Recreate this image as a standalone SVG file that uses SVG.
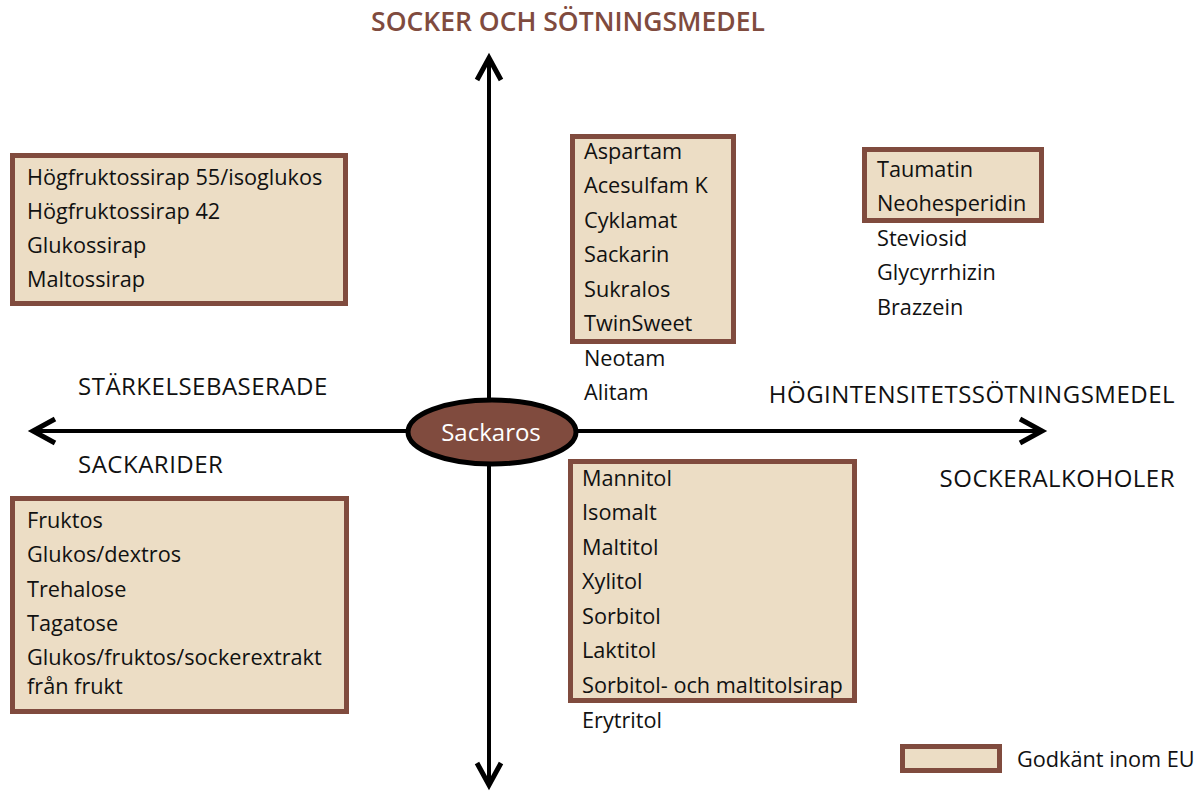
<svg xmlns="http://www.w3.org/2000/svg" width="1203" height="795" viewBox="0 0 1203 795">
<style>
.box{fill:#ecddc5;stroke:#804b3e;stroke-width:5}
.t{font-family:"Open Sans","Liberation Sans",sans-serif;font-size:21.7px;fill:#111}
.ax{font-family:"Open Sans","Liberation Sans",sans-serif;font-size:24px;letter-spacing:0.5px;fill:#111}
.title{font-family:"Open Sans","Liberation Sans",sans-serif;font-size:26.5px;font-weight:600;fill:#804b3e}
.axis{stroke:#000;stroke-width:4;fill:none}
</style>
<defs>
<marker id="chev" viewBox="-30 -16 36 32" refX="0" refY="0" markerWidth="36" markerHeight="32" markerUnits="userSpaceOnUse" orient="auto">
<path d="M-22,-12 L0,0 L-22,12" fill="none" stroke="#000" stroke-width="5" stroke-linejoin="miter" stroke-miterlimit="10"/>
</marker>
</defs>
<rect width="1203" height="795" fill="#fff"/>
<text class="title" x="568" y="31" text-anchor="middle">SOCKER OCH SÖTNINGSMEDEL</text>
<g id="connectors">
<line class="axis" x1="489" y1="432" x2="489" y2="58" marker-end="url(#chev)"/>
<line class="axis" x1="489" y1="432" x2="489" y2="785" marker-end="url(#chev)"/>
<line class="axis" x1="489" y1="431" x2="33" y2="431" marker-end="url(#chev)"/>
<line class="axis" x1="489" y1="431" x2="1042" y2="431" marker-end="url(#chev)"/>
</g>
<g id="axis-labels">
<text class="ax" x="78" y="395">STÄRKELSEBASERADE</text>
<text class="ax" x="78" y="473">SACKARIDER</text>
<text class="ax" x="1175" y="403" text-anchor="end">HÖGINTENSITETSSÖTNINGSMEDEL</text>
<text class="ax" x="1175" y="487" text-anchor="end">SOCKERALKOHOLER</text>
</g>
<g id="sackaros">
<ellipse cx="492" cy="432" rx="84" ry="32" fill="#804b3e" stroke="#000" stroke-width="5"/>
<text x="491" y="441" text-anchor="middle" style="font-family:'Open Sans','Liberation Sans',sans-serif;font-size:24px;fill:#fff">Sackaros</text>
</g>
<g id="starch">
<rect class="box" x="12.5" y="155.5" width="333" height="148"/>
<text class="t" x="27" y="185">Högfruktossirap 55/isoglukos</text>
<text class="t" x="27" y="219">Högfruktossirap 42</text>
<text class="t" x="27" y="253">Glukossirap</text>
<text class="t" x="27" y="287">Maltossirap</text>
</g>
<g id="intense1">
<rect class="box" x="572.5" y="136.5" width="161" height="205"/>
<text class="t" x="584" y="159">Aspartam</text>
<text class="t" x="584" y="193">Acesulfam K</text>
<text class="t" x="584" y="228">Cyklamat</text>
<text class="t" x="584" y="262">Sackarin</text>
<text class="t" x="584" y="297">Sukralos</text>
<text class="t" x="584" y="331">TwinSweet</text>
<text class="t" x="584" y="366">Neotam</text>
<text class="t" x="584" y="400">Alitam</text>
</g>
<g id="intense2">
<rect class="box" x="864.5" y="149.5" width="177" height="71"/>
<text class="t" x="877" y="177">Taumatin</text>
<text class="t" x="877" y="211">Neohesperidin</text>
<text class="t" x="877" y="246">Steviosid</text>
<text class="t" x="877" y="280">Glycyrrhizin</text>
<text class="t" x="877" y="315">Brazzein</text>
</g>
<g id="polyols">
<rect class="box" x="570.5" y="461.5" width="284" height="239"/>
<text class="t" x="582" y="486">Mannitol</text>
<text class="t" x="582" y="520">Isomalt</text>
<text class="t" x="582" y="555">Maltitol</text>
<text class="t" x="582" y="589">Xylitol</text>
<text class="t" x="582" y="624">Sorbitol</text>
<text class="t" x="582" y="658">Laktitol</text>
<text class="t" x="582" y="693">Sorbitol- och maltitolsirap</text>
<text class="t" x="582" y="728">Erytritol</text>
</g>
<g id="saccharides">
<rect class="box" x="12.5" y="498.5" width="334" height="213"/>
<text class="t" x="27" y="528">Fruktos</text>
<text class="t" x="27" y="562">Glukos/dextros</text>
<text class="t" x="27" y="597">Trehalose</text>
<text class="t" x="27" y="631">Tagatose</text>
<text class="t" x="27" y="665">Glukos/fruktos/sockerextrakt</text>
<text class="t" x="27" y="694">från frukt</text>
</g>
<g id="legend">
<rect class="box" x="902.5" y="746.5" width="97" height="24"/>
<text class="t" x="1017" y="767">Godkänt inom EU</text>
</g>
</svg>
